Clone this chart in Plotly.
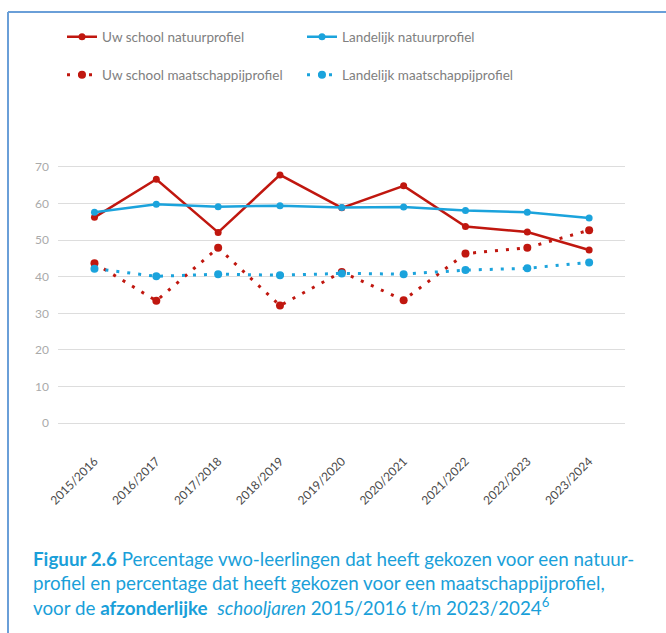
import plotly.graph_objects as go

years = ["2015/2016", "2016/2017", "2017/2018", "2018/2019", "2019/2020",
         "2020/2021", "2021/2022", "2022/2023", "2023/2024"]
school_natuur = [56.2, 66.6, 52.1, 67.8, 58.8, 64.8, 53.7, 52.2, 47.3]
landelijk_natuur = [57.6, 59.8, 59.1, 59.4, 58.9, 59.0, 58.1, 57.6, 56.0]
school_maat = [43.7, 33.4, 47.9, 32.1, 41.3, 33.6, 46.3, 47.9, 52.7]
landelijk_maat = [42.2, 40.1, 40.7, 40.4, 40.9, 40.7, 41.8, 42.3, 43.9]
y_ticks = [0, 10, 20, 30, 40, 50, 60, 70]

RED = "#c0170f"
BLUE = "#1ba3dc"
FONT = "Lato"

W, H = 666, 633
ML, MR, MT, MB = 58, 41, 165, 208
PW = W - ML - MR
PH = H - MT - MB

def px_x(px):
    return (px - ML) / PW

def px_y(py):
    return (H - MB - py) / PH

def cx(px):
    return px / W

def cy(py):
    return 1 - py / H

fig = go.Figure()
fig.add_trace(go.Scatter(x=years, y=school_natuur, name="Uw school natuurprofiel",
                         mode="lines+markers", line=dict(color=RED, width=2.5),
                         marker=dict(size=7, color=RED), legend="legend"))
fig.add_trace(go.Scatter(x=years, y=landelijk_natuur, name="Landelijk natuurprofiel",
                         mode="lines+markers", line=dict(color=BLUE, width=2.5),
                         marker=dict(size=7, color=BLUE), legend="legend"))
fig.add_trace(go.Scatter(x=years, y=school_maat, name="Uw school maatschappijprofiel",
                         mode="lines+markers", line=dict(color=RED, width=3, dash="3px,8px"),
                         marker=dict(size=8, color=RED), legend="legend2"))
fig.add_trace(go.Scatter(x=years, y=landelijk_maat, name="Landelijk maatschappijprofiel",
                         mode="lines+markers", line=dict(color=BLUE, width=3, dash="3px,8px"),
                         marker=dict(size=8, color=BLUE), legend="legend2"))

legend_common = dict(orientation="h", xanchor="left", yanchor="middle",
                     xref="container", yref="container",
                     entrywidth=195, entrywidthmode="pixels",
                     font=dict(family=FONT, size=13.5, color="#808080"),
                     bgcolor="rgba(0,0,0,0)", traceorder="normal")

frame_color = "#6a9fd8"
shapes = [
    dict(type="line", xref="paper", yref="paper", x0=px_x(8), x1=px_x(W + 5),
         y0=px_y(12), y1=px_y(12), line=dict(color=frame_color, width=2)),
    dict(type="line", xref="paper", yref="paper", x0=px_x(8), x1=px_x(8),
         y0=px_y(12), y1=px_y(H + 5), line=dict(color=frame_color, width=2)),
]

caption = ("<b>Figuur 2.6</b> Percentage vwo-leerlingen dat heeft gekozen voor een natuur-<br>"
           "profiel en percentage dat heeft gekozen voor een maatschappijprofiel,<br>"
           "voor de <b>afzonderlijke</b>  <i>schooljaren</i> 2015/2016 t/m 2023/2024<sup>6</sup>")

fig.update_layout(
    width=W, height=H,
    margin=dict(l=ML, r=MR, t=MT, b=MB, autoexpand=False),
    paper_bgcolor="white", plot_bgcolor="white",
    font=dict(family=FONT),
    legend=dict(x=cx(62), y=cy(37), **legend_common),
    legend2=dict(x=cx(62), y=cy(75), **legend_common),
    shapes=shapes,
    annotations=[dict(text=caption, xref="paper", yref="paper", x=px_x(31), y=px_y(545),
                      xanchor="left", yanchor="top", align="left", showarrow=False,
                      font=dict(family=FONT, size=18.8, color="#1a9fd9"))],
    xaxis=dict(type="category", range=[-0.59, 8.58], showgrid=False, showline=False,
               zeroline=False, tickangle=-45, ticklabelstandoff=26,
               tickfont=dict(family=FONT, size=12, color="#4a4a4a")),
    yaxis=dict(range=[-0.5, 70.5], tickvals=y_ticks, showgrid=True, gridcolor="#dddddd",
               gridwidth=1, zeroline=False, showline=False, ticklabelstandoff=8,
               tickfont=dict(family=FONT, size=12, color="#aaaaaa")),
)

fig.write_html("out.html", config={"displayModeBar": False},
               post_script="document.body.style.margin='0px';")
